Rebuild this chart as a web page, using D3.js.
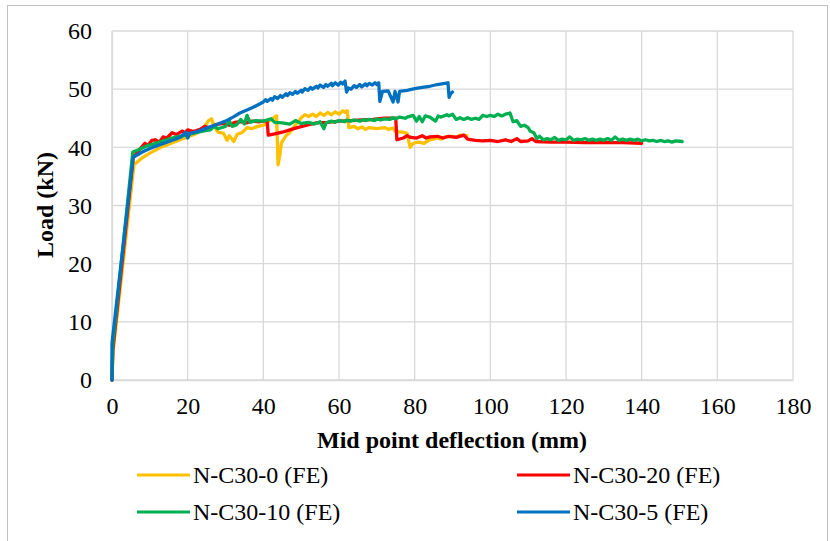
<!DOCTYPE html>
<html>
<head>
<meta charset="utf-8">
<script src="https://cdn.jsdelivr.net/npm/d3@7"></script>
<style>
  html, body { margin: 0; padding: 0; background: #fff; }
  svg { display: block; }
</style>
</head>
<body>
<svg id="chart" width="830" height="541"></svg>
<script>
// ---- Data ----
const xTicks = [0, 20, 40, 60, 80, 100, 120, 140, 160, 180];
const yTicks = [0, 10, 20, 30, 40, 50, 60];
const seriesNames = ["N-C30-0 (FE)", "N-C30-20 (FE)", "N-C30-10 (FE)", "N-C30-5 (FE)"];
const seriesColors = ["#FFC000", "#FF0000", "#00B050", "#0070C0"];

const nC30_0 = [[0,0],[0.3,5],[5.8,37.0],[8,38.2],[10,39.0],[12,39.7],[14,40.3],[16,40.8],[18,41.3],[20,41.8],[22,42.3],[23.5,42.8],[24.5,43.6],[25.5,44.6],[26.3,44.9],[27,43.6],[28,42.6],[29.5,42.4],[30.4,41.2],[31,42.0],[32.2,41.0],[33,42.2],[34.5,42.6],[35.7,43.4],[37,43.2],[38.5,43.6],[40,43.8],[41,44.2],[42,44.8],[43.5,45.4],[43.9,37.0],[44.3,38.5],[44.8,40.8],[46,42.0],[47,42.6],[48.4,43.8],[49.5,44.6],[50.2,45.2],[51,45.6],[52,45.3],[53,45.7],[54,45.3],[55,45.9],[56,45.5],[57,46.0],[58,45.6],[59,46.1],[60,45.7],[61,46.3],[61.6,46.0],[62.2,46.3],[62.6,43.4],[64,43.6],[65,43.2],[66,43.5],[67,43.1],[68,43.4],[70,43.2],[72,43.4],[73,43.1],[74.3,43.3],[75,42.7],[77,42.6],[78,42.4],[78.8,40.0],[79.6,40.7],[81,40.9],[82.5,40.7],[84,41.3],[86,41.6],[87,41.4],[88,41.8],[90,41.9],[91,41.7],[92,42.1],[93.8,42.0]];

const nC30_20 = [[0,0],[0.2,5],[5.6,38.2],[7,39.4],[8.7,40.7],[9.5,40.3],[10.5,41.2],[11.4,41.3],[12.5,40.9],[13.5,41.8],[14.5,41.6],[15.9,42.5],[17,42.2],[18.5,42.8],[19.3,42.5],[20,43.0],[21.5,42.7],[23.3,43.1],[24.5,43.6],[26,43.3],[27.5,43.9],[29.3,44.1],[31,43.8],[32.5,44.3],[33.8,44.4],[35.5,44.2],[37,44.5],[39,44.4],[41,44.6],[41.3,42.1],[43,42.3],[45,42.6],[47,43.0],[49,43.4],[51.5,43.8],[54,44.2],[57,44.3],[60,44.5],[63,44.6],[66,44.7],[69,44.8],[72,45.0],[75,45.0],[75.3,41.3],[77,41.6],[78,42.0],[79,41.7],[80.5,41.6],[82,42.0],[83,41.6],[84,41.8],[86,41.9],[87.5,41.6],[89,41.9],[91,41.7],[93,42.1],[94,41.4],[96,41.2],[98,41.1],[100,41.2],[102,41.0],[104,41.3],[105.5,41.0],[107,41.5],[108,41.0],[110,41.1],[111,41.5],[112,41.0],[116,40.9],[120,40.9],[125,40.8],[130,40.8],[135,40.8],[140,40.7]];

const nC30_10 = [[0,0],[0.2,6],[5.5,39.2],[7,39.6],[9,40.2],[11,40.6],[13,41.0],[15,41.4],[17,41.8],[19,42.0],[20,42.2],[22,42.5],[24,42.8],[26,43.0],[27,43.6],[28,43.2],[30,43.6],[31,44.5],[31.8,43.6],[33,43.9],[34,44.8],[35,44.0],[35.7,45.5],[36.5,44.3],[38,44.6],[40,44.5],[42,44.9],[43,44.3],[45,44.2],[47,44.0],[48.5,44.6],[50,44.1],[52,44.3],[53.5,44.0],[55,44.4],[56,43.2],[56.6,44.2],[58,44.5],[59,44.3],[60,44.6],[61.5,44.4],[62,44.7],[63,44.5],[64,44.7],[65.5,44.5],[66.4,44.8],[67,44.6],[68,44.8],[69.5,44.6],[70,44.9],[71,44.7],[72,44.9],[73.5,44.8],[74,45.1],[75,44.9],[76,45.2],[77.5,45.0],[78,45.2],[79.6,45.5],[80.5,44.5],[81.2,45.3],[82,44.4],[82.8,45.4],[84,45.2],[85.5,44.5],[86.2,45.4],[87,45.2],[88.5,45.6],[89,45.4],[90,45.7],[91,44.8],[92,45.1],[93,44.8],[94,45.1],[95,44.8],[96,45.0],[97,44.8],[98,45.5],[99,45.3],[100,45.5],[101,45.3],[102,45.7],[103,45.4],[104,45.7],[105.2,45.9],[106,44.4],[107,44.6],[108,43.6],[109,43.8],[110,43.4],[110.5,42.8],[111.5,42.5],[112.3,41.5],[113,41.9],[114,41.3],[115,41.5],[116,41.3],[117,41.7],[118,41.2],[119,41.4],[120,41.3],[121,41.8],[122,41.2],[123,41.4],[124,41.3],[125,41.5],[126,41.2],[127,41.4],[128,41.2],[129,41.4],[130,41.2],[131,41.5],[132,41.2],[133,41.8],[134,41.2],[135,41.4],[136,41.2],[137,41.4],[138,41.2],[139,41.4],[140,41.1],[141,41.3],[142,41.1],[143,41.2],[144,41.0],[145,41.2],[146,41.0],[147,41.1],[148,40.9],[149,41.1],[150.7,41.0]];

const nC30_5 = [[0,0],[0,6.3],[5.6,38.3],[8,39.2],[10,39.8],[12,40.3],[15,41.0],[18,41.7],[19.5,42.6],[20,41.6],[20.5,42.4],[22,42.6],[25,43.3],[28,44.0],[30,44.5],[32,45.2],[33.8,45.9],[36,46.5],[38,47.1],[40,47.8],[40.6,48.2],[41,47.9],[42,48.4],[42.4,48.1],[43,48.7],[43.8,48.4],[44.5,48.9],[45,48.6],[46,49.2],[46.4,48.9],[47,49.4],[47.7,49.1],[48.5,49.6],[49,49.3],[50,49.8],[50.3,49.5],[51,50.1],[51.8,49.8],[52.5,50.3],[53,50.0],[54,50.5],[54.4,50.2],[55,50.7],[55.9,50.3],[56.5,50.8],[57,50.5],[58,51.0],[58.3,50.6],[59,51.1],[59.8,50.7],[60.5,51.2],[61,50.9],[61.6,51.4],[62,49.5],[62.5,50.2],[63.2,50.0],[64,50.6],[64.6,50.3],[65.5,50.8],[66,50.4],[67,50.9],[67.4,50.6],[68,51.0],[68.8,50.7],[69.5,51.1],[70,50.8],[70.5,51.1],[70.8,47.9],[71.5,49.6],[73,49.7],[74.3,47.8],[74.8,49.6],[75.6,47.8],[76,49.6],[78,49.8],[80,50.1],[82,50.3],[84,50.5],[86,50.8],[88.8,51.1],[89.1,48.6],[89.5,49.2],[90,49.5]];

const seriesData = [nC30_0, nC30_20, nC30_10, nC30_5];

// ---- Layout ----
const FONT = "'Liberation Serif', 'Times New Roman', Tinos, 'DejaVu Serif', serif";
const FS = 24;
const svg = d3.select("#chart").attr("font-family", FONT);
const x = d3.scaleLinear().domain([0, 180]).range([112, 793]);
const y = d3.scaleLinear().domain([0, 60]).range([380, 31]);

// chart area border
svg.append("rect").attr("x", 7.5).attr("y", 5.5).attr("width", 820).attr("height", 540)
  .attr("fill", "#fff").attr("stroke", "#BFBFBF").attr("stroke-width", 1);

// gridlines
const grid = svg.append("g");
grid.selectAll("line.h").data(yTicks).enter().append("line")
  .attr("x1", x(0)).attr("x2", x(180)).attr("y1", d => y(d)).attr("y2", d => y(d))
  .attr("stroke", "#D9D9D9").attr("stroke-width", 1.3);
grid.selectAll("line.v").data(xTicks).enter().append("line")
  .attr("x1", d => x(d)).attr("x2", d => x(d)).attr("y1", y(0)).attr("y2", y(60))
  .attr("stroke", "#D9D9D9").attr("stroke-width", 1.3);

// axes (labels)
const xAxis = svg.append("g").attr("transform", `translate(0,${y(0)})`)
  .call(d3.axisBottom(x).tickValues(xTicks).tickSize(0).tickPadding(17).tickFormat(d3.format("d")));
xAxis.attr("font-family", FONT).attr("font-size", FS);
xAxis.select(".domain").attr("stroke", "#D9D9D9").attr("stroke-width", 1.3);
xAxis.selectAll("text").attr("fill", "#000");

const yAxis = svg.append("g").attr("transform", `translate(${x(0)},0)`)
  .call(d3.axisLeft(y).tickValues(yTicks).tickSize(0).tickPadding(20).tickFormat(d3.format("d")));
yAxis.attr("font-family", FONT).attr("font-size", FS);
yAxis.select(".domain").attr("stroke", "#D9D9D9").attr("stroke-width", 1.3);
yAxis.selectAll("text").attr("fill", "#000");

// series
const line = d3.line().x(d => x(d[0])).y(d => y(d[1]));
seriesData.forEach((s, i) => {
  svg.append("path").datum(s).attr("d", line)
    .attr("fill", "none").attr("stroke", seriesColors[i]).attr("stroke-width", 3.3)
    .attr("stroke-linejoin", "round").attr("stroke-linecap", "round");
});

// axis titles
svg.append("text").attr("x", 452).attr("y", 448).attr("text-anchor", "middle")
  .attr("font-family", FONT).attr("font-size", FS).attr("font-weight", "bold").text("Mid point deflection (mm)");
svg.append("text").attr("transform", "translate(53,205) rotate(-90)").attr("text-anchor", "middle")
  .attr("font-family", FONT).attr("font-size", FS).attr("font-weight", "bold").text("Load (kN)");

// legend
const legPos = [[137, 475], [517, 475], [137, 512], [517, 512]];
seriesNames.forEach((name, i) => {
  const [lx, ly] = legPos[i];
  svg.append("line").attr("x1", lx).attr("x2", lx + 53).attr("y1", ly).attr("y2", ly)
    .attr("stroke", seriesColors[i]).attr("stroke-width", 3);
  svg.append("text").attr("x", lx + 56).attr("y", ly + 8)
    .attr("font-family", FONT).attr("font-size", FS).text(name);
});
</script>
</body>
</html>
